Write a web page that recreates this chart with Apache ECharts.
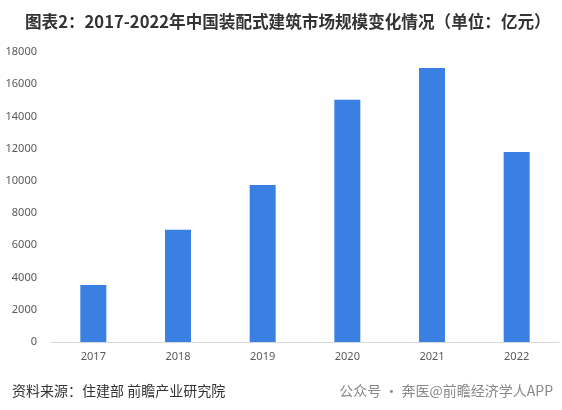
<!DOCTYPE html>
<html>
<head>
<meta charset="utf-8">
<script src="https://cdn.jsdelivr.net/npm/echarts@6/dist/echarts.min.js"></script>
<style>
  html, body { margin: 0; padding: 0; background: #fff; }
  #chart { width: 562px; height: 410px; }
</style>
</head>
<body>
<div id="chart"></div>
<script>
const years = ['2017', '2018', '2019', '2020', '2021', '2022'];
const marketSize = [3540, 6970, 9750, 15040, 17010, 11790];

const chart = echarts.init(document.getElementById('chart'), null, { renderer: 'canvas' });

chart.setOption({
  backgroundColor: '#fff',
  title: [
    {
      text: '图表2：2017-2022年中国装配式建筑市场规模变化情况（单位：亿元）',
      left: 20,
      top: 8,
      textStyle: {
        fontFamily: 'Noto Sans CJK SC',
        fontSize: 16.6,
        fontWeight: 'bold',
        color: '#333'
      }
    },
    {
      text: '资料来源：住建部 前瞻产业研究院',
      left: 7,
      top: 379,
      textStyle: {
        fontFamily: 'Noto Sans CJK SC',
        fontSize: 14,
        fontWeight: 'normal',
        color: '#333'
      }
    },
    {
      text: '公众号 · 奔医@前瞻经济学人APP',
      right: 4,
      top: 379,
      textStyle: {
        fontFamily: 'Noto Sans CJK SC',
        fontSize: 14,
        fontWeight: 'normal',
        color: '#888'
      }
    }
  ],
  grid: {
    left: 51,
    right: 3,
    top: 52,
    bottom: 68
  },
  xAxis: {
    type: 'category',
    data: years,
    axisLine: { lineStyle: { color: '#d9d9d9' } },
    axisTick: { show: false },
    axisLabel: {
      color: '#595959',
      fontSize: 11,
      fontFamily: 'Noto Sans',
      margin: 9
    }
  },
  yAxis: {
    type: 'value',
    min: 0,
    max: 18000,
    interval: 2000,
    splitLine: { show: false },
    axisLine: { show: false },
    axisTick: { show: false },
    axisLabel: {
      color: '#595959',
      fontSize: 11,
      fontFamily: 'Noto Sans',
      margin: 14,
      formatter: v => String(v)
    }
  },
  series: [
    {
      type: 'bar',
      data: marketSize,
      barWidth: 26,
      itemStyle: { color: '#3a80e2' }
    }
  ]
});
</script>
</body>
</html>
